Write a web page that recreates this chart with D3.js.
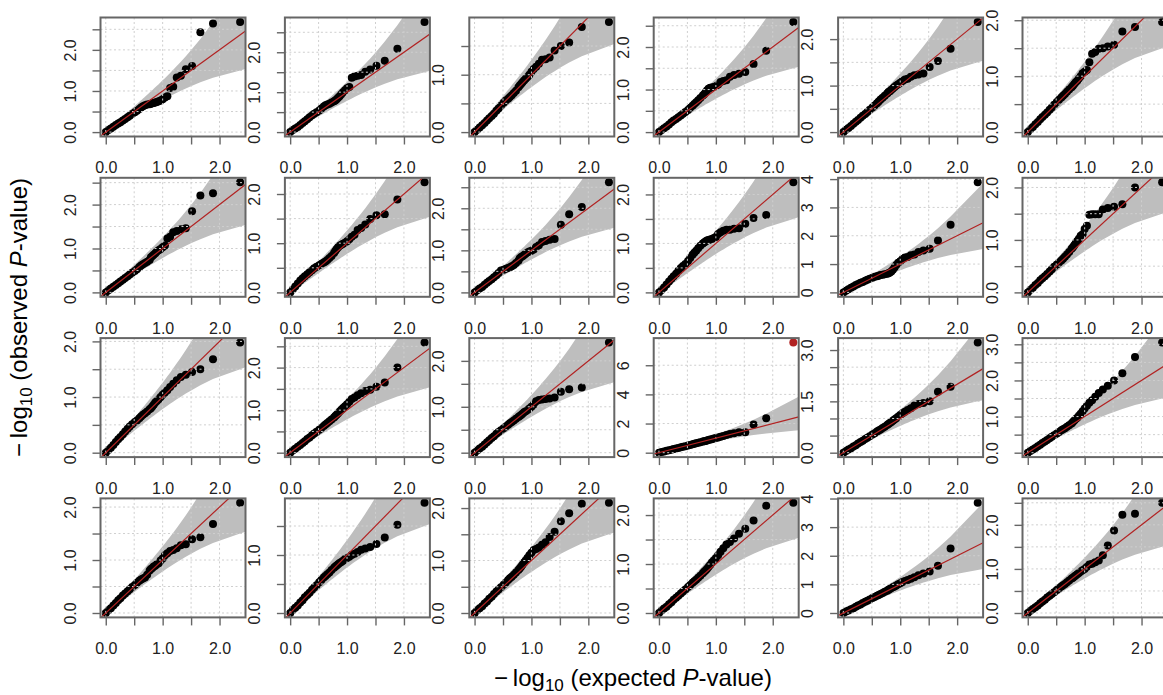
<!DOCTYPE html>
<html><head><meta charset="utf-8">
<script src="https://cdn.jsdelivr.net/npm/d3@7"></script>
<style>
body{margin:0;background:#fff}
svg{display:block}
text{font-family:"Liberation Sans",Arial,Helvetica,sans-serif}
</style>
</head><body>
<svg id="c" width="1163" height="695"></svg>
<script>
// ---------------- data ----------------
const nTests = 115;                       // number of tests per panel
// expected -log10 P for the plotted ranks (1..20, then sampled ranks)
const ranks = [1,2,3,4,5,6,7,8,9,10,11,12,13,14,15,16,17,18,19,20,22,24,26,28,30,33,36,40,44,48,53,58,64,70,77,85,94,104,115];
const expected = [2.362,1.885,1.663,1.517,1.407,1.320,1.248,1.186,1.131,1.083,1.040,1.000,0.964,0.930,0.899,0.870,0.843,0.818,0.794,0.771,0.728,0.690,0.654,0.621,0.591,0.549,0.511,0.464,0.422,0.384,0.341,0.301,0.258,0.219,0.177,0.134,0.090,0.046,0.002];

// observed -log10 P, one array per panel (row-wise order)
const p01 = [2.68,2.64,2.43,1.61,1.53,1.37,1.33,1.10,1.07,0.87,0.84,0.80,0.77,0.75,0.73,0.72,0.71,0.70,0.69,0.68,0.67,0.65,0.63,0.60,0.56,0.52,0.48,0.44,0.40,0.36,0.32,0.28,0.24,0.21,0.17,0.13,0.09,0.05,0.00];
const p02 = [2.76,2.09,1.79,1.66,1.57,1.51,1.43,1.41,1.39,1.36,1.13,1.10,1.05,1.00,0.95,0.90,0.86,0.82,0.79,0.77,0.74,0.71,0.69,0.67,0.64,0.59,0.54,0.50,0.46,0.42,0.37,0.32,0.27,0.23,0.18,0.13,0.09,0.05,0.00];
const p03 = [1.92,1.83,1.56,1.50,1.42,1.30,1.27,1.26,1.19,1.14,1.10,1.05,1.00,0.96,0.93,0.90,0.87,0.84,0.81,0.78,0.72,0.68,0.64,0.61,0.58,0.55,0.51,0.46,0.41,0.37,0.32,0.28,0.24,0.20,0.16,0.12,0.08,0.04,0.00];
const p04 = [2.59,1.91,1.60,1.41,1.37,1.34,1.30,1.22,1.20,1.18,1.12,1.08,1.06,1.05,1.04,1.02,0.98,0.93,0.89,0.86,0.80,0.75,0.70,0.66,0.62,0.57,0.52,0.47,0.43,0.39,0.35,0.31,0.27,0.23,0.18,0.13,0.09,0.05,0.00];
const p05 = [2.37,1.79,1.53,1.40,1.26,1.24,1.22,1.19,1.15,1.13,1.10,1.06,1.03,1.00,0.97,0.94,0.91,0.88,0.86,0.83,0.78,0.74,0.70,0.66,0.62,0.57,0.53,0.48,0.43,0.39,0.35,0.31,0.26,0.22,0.18,0.13,0.09,0.05,0.00];
const p06 = [1.97,1.88,1.80,1.56,1.53,1.50,1.49,1.43,1.40,1.25,1.11,1.08,1.05,1.00,0.96,0.92,0.89,0.86,0.83,0.80,0.76,0.72,0.68,0.65,0.62,0.58,0.54,0.49,0.44,0.40,0.35,0.31,0.27,0.23,0.18,0.14,0.09,0.05,0.00];
const p07 = [2.51,2.26,2.21,1.85,1.46,1.44,1.40,1.37,1.27,1.23,1.07,1.03,0.99,0.96,0.93,0.89,0.86,0.83,0.80,0.74,0.70,0.67,0.64,0.61,0.58,0.53,0.49,0.45,0.41,0.37,0.33,0.29,0.25,0.21,0.17,0.13,0.09,0.05,0.00];
const p08 = [2.24,1.89,1.59,1.57,1.49,1.38,1.31,1.27,1.17,1.13,1.08,1.04,1.01,0.99,0.97,0.95,0.92,0.88,0.84,0.80,0.74,0.70,0.66,0.63,0.61,0.58,0.55,0.52,0.49,0.45,0.41,0.37,0.33,0.29,0.24,0.18,0.12,0.06,0.00];
const p09 = [2.62,2.03,1.86,1.61,1.27,1.25,1.22,1.20,1.12,1.08,1.02,0.99,0.97,0.95,0.92,0.89,0.86,0.84,0.81,0.75,0.70,0.65,0.62,0.60,0.58,0.56,0.54,0.52,0.46,0.41,0.36,0.31,0.27,0.23,0.18,0.13,0.09,0.05,0.00];
const p10 = [2.25,1.58,1.52,1.40,1.31,1.30,1.28,1.28,1.26,1.23,1.19,1.13,1.11,1.09,1.08,1.07,1.06,1.04,1.02,1.00,0.95,0.90,0.85,0.81,0.77,0.70,0.64,0.58,0.54,0.50,0.44,0.38,0.33,0.28,0.22,0.16,0.10,0.05,0.00];
const p11 = [3.89,2.39,1.83,1.54,1.48,1.43,1.34,1.31,1.25,1.23,1.18,1.10,1.05,0.97,0.88,0.80,0.74,0.70,0.68,0.66,0.64,0.62,0.61,0.59,0.57,0.55,0.52,0.48,0.45,0.41,0.37,0.34,0.30,0.26,0.21,0.16,0.11,0.06,0.00];
const p12 = [2.10,2.00,1.68,1.63,1.61,1.58,1.49,1.49,1.49,1.48,1.27,1.21,1.11,1.08,1.02,0.98,0.94,0.90,0.86,0.83,0.77,0.72,0.68,0.64,0.61,0.57,0.53,0.49,0.44,0.40,0.35,0.31,0.27,0.23,0.18,0.14,0.09,0.05,0.00];
const p13 = [1.98,1.68,1.50,1.45,1.40,1.36,1.30,1.24,1.18,1.12,1.08,1.04,1.00,0.96,0.93,0.90,0.86,0.83,0.80,0.78,0.74,0.71,0.68,0.65,0.62,0.58,0.55,0.51,0.47,0.43,0.38,0.33,0.28,0.24,0.19,0.14,0.09,0.05,0.00];
const p14 = [2.59,2.00,1.65,1.55,1.48,1.45,1.40,1.35,1.30,1.26,1.20,1.14,1.09,1.05,1.01,0.97,0.93,0.89,0.86,0.83,0.78,0.74,0.70,0.66,0.63,0.58,0.54,0.49,0.45,0.41,0.36,0.32,0.27,0.23,0.18,0.14,0.09,0.05,0.00];
const p15 = [2.40,1.42,1.38,1.33,1.20,1.18,1.17,1.16,1.15,1.12,1.05,1.00,0.96,0.93,0.90,0.88,0.85,0.82,0.80,0.78,0.74,0.70,0.67,0.64,0.61,0.57,0.53,0.49,0.45,0.41,0.36,0.32,0.27,0.23,0.18,0.13,0.09,0.05,0.00];
const p16 = [7.56,2.36,1.94,1.40,1.40,1.33,1.28,1.22,1.15,1.10,1.05,1.01,0.97,0.93,0.90,0.87,0.84,0.81,0.78,0.76,0.72,0.68,0.64,0.61,0.58,0.53,0.50,0.45,0.41,0.37,0.33,0.29,0.25,0.21,0.17,0.13,0.09,0.04,0.00];
const p17 = [3.22,1.93,1.78,1.50,1.45,1.42,1.38,1.30,1.25,1.20,1.15,1.10,1.05,1.01,0.97,0.93,0.90,0.87,0.84,0.81,0.76,0.72,0.68,0.65,0.62,0.57,0.53,0.48,0.44,0.40,0.35,0.31,0.27,0.22,0.18,0.13,0.09,0.05,0.00];
const p18 = [3.05,2.65,2.20,2.00,1.85,1.75,1.65,1.55,1.45,1.38,1.30,1.22,1.15,1.08,1.02,0.97,0.93,0.89,0.85,0.81,0.76,0.72,0.68,0.65,0.62,0.57,0.53,0.48,0.44,0.40,0.35,0.31,0.27,0.22,0.18,0.13,0.09,0.05,0.00];
const p19 = [2.08,1.68,1.43,1.39,1.30,1.28,1.22,1.19,1.17,1.13,1.09,1.03,0.99,0.94,0.92,0.89,0.88,0.85,0.83,0.80,0.72,0.67,0.65,0.63,0.61,0.57,0.53,0.49,0.45,0.41,0.37,0.33,0.28,0.24,0.19,0.14,0.09,0.05,0.00];
const p20 = [1.90,1.52,1.30,1.19,1.14,1.11,1.09,1.05,1.02,1.00,0.97,0.95,0.93,0.90,0.88,0.86,0.84,0.82,0.80,0.78,0.74,0.70,0.67,0.64,0.61,0.57,0.53,0.48,0.44,0.40,0.35,0.31,0.27,0.22,0.18,0.13,0.09,0.05,0.00];
const p21 = [2.10,2.08,1.90,1.75,1.55,1.45,1.35,1.30,1.25,1.22,1.20,1.15,1.10,1.05,1.00,0.96,0.92,0.88,0.85,0.82,0.77,0.73,0.69,0.66,0.63,0.58,0.54,0.49,0.45,0.41,0.36,0.31,0.27,0.22,0.18,0.13,0.09,0.05,0.00];
const p22 = [2.25,2.19,1.89,1.72,1.62,1.52,1.45,1.40,1.32,1.25,1.18,1.12,1.07,1.03,0.98,0.94,0.90,0.87,0.84,0.81,0.76,0.72,0.68,0.65,0.62,0.57,0.53,0.48,0.44,0.40,0.35,0.31,0.27,0.22,0.18,0.13,0.09,0.05,0.00];
const p23 = [3.85,2.25,1.65,1.45,1.38,1.32,1.25,1.20,1.15,1.12,1.08,1.04,1.00,0.96,0.93,0.90,0.87,0.84,0.81,0.78,0.74,0.70,0.66,0.63,0.60,0.56,0.52,0.47,0.43,0.39,0.35,0.30,0.26,0.22,0.17,0.13,0.09,0.05,0.00];
const p24 = [2.50,2.25,2.23,1.87,1.53,1.31,1.19,1.15,1.12,1.10,1.05,1.00,0.97,0.94,0.91,0.88,0.85,0.83,0.80,0.78,0.74,0.70,0.66,0.63,0.60,0.56,0.52,0.47,0.43,0.39,0.35,0.30,0.26,0.22,0.17,0.13,0.09,0.05,0.00];
const panels = [p01,p02,p03,p04,p05,p06,p07,p08,p09,p10,p11,p12,p13,p14,p15,p16,p17,p18,p19,p20,p21,p22,p23,p24];
// highlighted (significant) point: panel 16, rank 1
const highlightPanel = 16, highlightRank = 1;

const xTitle = ["\u2212\u2009log", "10", " (expected ", "P", "-value)"];
const yTitle = ["\u2212\u2009log", "10", " (observed ", "P", "-value)"];

// ---------------- beta quantiles for the 95% band ----------------
function lgamma(x){
  const c=[0.99999999999980993,676.5203681218851,-1259.1392167224028,771.32342877765313,-176.61502916214059,12.507343278686905,-0.13857109526572012,9.9843695780195716e-6,1.5056327351493116e-7];
  if(x<0.5) return Math.log(Math.PI/Math.sin(Math.PI*x))-lgamma(1-x);
  x-=1; let a=c[0]; const t=x+7.5;
  for(let i=1;i<9;i++) a+=c[i]/(x+i);
  return 0.5*Math.log(2*Math.PI)+(x+0.5)*Math.log(t)-t+Math.log(a);
}
function betacf(a,b,x){
  const FP=1e-300; const qab=a+b,qap=a+1,qam=a-1;
  let c=1,d=1-qab*x/qap; if(Math.abs(d)<FP)d=FP; d=1/d; let h=d;
  for(let m=1;m<=300;m++){
    const m2=2*m; let aa=m*(b-m)*x/((qam+m2)*(a+m2));
    d=1+aa*d; if(Math.abs(d)<FP)d=FP; c=1+aa/c; if(Math.abs(c)<FP)c=FP; d=1/d; h*=d*c;
    aa=-(a+m)*(qab+m)*x/((a+m2)*(qap+m2));
    d=1+aa*d; if(Math.abs(d)<FP)d=FP; c=1+aa/c; if(Math.abs(c)<FP)c=FP; d=1/d;
    const del=d*c; h*=del; if(Math.abs(del-1)<1e-13) break;
  }
  return h;
}
function ibeta(x,a,b){
  if(x<=0) return 0; if(x>=1) return 1;
  const bt=Math.exp(lgamma(a+b)-lgamma(a)-lgamma(b)+a*Math.log(x)+b*Math.log(1-x));
  return x<(a+1)/(a+b+2) ? bt*betacf(a,b,x)/a : 1-bt*betacf(b,a,1-x)/b;
}
function qbeta(p,a,b){
  let lo=0,hi=1;
  for(let k=0;k<80;k++){const mid=(lo+hi)/2; if(ibeta(mid,a,b)<p) lo=mid; else hi=mid;}
  return (lo+hi)/2;
}
const band = d3.range(1, nTests+1).map(i => ({
  e: -Math.log10((i-0.5)/nTests),
  lo: -Math.log10(qbeta(0.975, i, nTests-i+1)),
  hi: -Math.log10(qbeta(0.025, i, nTests-i+1))
})).reverse();
{ // extend the band beyond the last rank so it reaches the frame
  const a=band[band.length-2], b=band[band.length-1], ex=b.e+0.4;
  band.push({e:ex, lo:b.lo+(b.lo-a.lo)/(b.e-a.e)*(ex-b.e), hi:b.hi+(b.hi-a.hi)/(b.e-a.e)*(ex-b.e)});
}

// ---------------- drawing ----------------
const svg = d3.select("#c");
const FS = 16;            // tick label size
const W = 145, H = 119;
const colX = c => 100.5 + c*184.4;
const rowY = r => 17.5 + r*160.3;
const GAP = 13.2;

function thinLabels(sel, getPos){
  let last = null, lastW = 0;
  sel.each(function(){
    const t = d3.select(this), w = this.getComputedTextLength(), p = getPos(this);
    if(last === null || Math.abs(p-last) >= (w+lastW)/2 + GAP){ last = p; lastW = w; }
    else t.remove();
  });
}
function fmtFor(ticks){
  const step = ticks.length>1 ? ticks[1]-ticks[0] : 1;
  const dec = Math.max(0, -Math.floor(Math.log10(step)+1e-9));
  return d3.format("." + dec + "f");
}

panels.forEach((obs, k) => {
  const row = Math.floor(k/6), col = k%6;
  const L = colX(col), T = rowY(row);
  const [xmn, xmx] = d3.extent(expected), xp = (xmx-xmn)*0.04;
  const [ymn, ymx] = d3.extent(obs), yp = (ymx-ymn)*0.04;
  const x = d3.scaleLinear().domain([xmn-xp, xmx+xp]).range([L, L+W]);
  const y = d3.scaleLinear().domain([ymn-yp, ymx+yp]).range([T+H, T]);
  const xt = d3.ticks(xmn-xp, xmx+xp, 5).filter(v => v>=xmn-xp && v<=xmx+xp);
  const yt = d3.ticks(ymn-yp, ymx+yp, 5).filter(v => v>=ymn-yp && v<=ymx+yp);

  const g = svg.append("g");
  const cid = "clip"+k;
  g.append("clipPath").attr("id", cid).append("rect").attr("x", L).attr("y", T).attr("width", W).attr("height", H);
  const inner = g.append("g").attr("clip-path", `url(#${cid})`);

  inner.append("path").datum(band)
    .attr("d", d3.area().x(d => x(d.e)).y0(d => y(d.lo)).y1(d => y(d.hi)))
    .attr("fill", "#bebebe");

  inner.selectAll("circle").data(obs).join("circle")
    .attr("cx", (d,i) => x(expected[i])).attr("cy", d => y(d)).attr("r", 4)
    .attr("fill", (d,i) => (k+1 === highlightPanel && ranks[i] === highlightRank) ? "#b22222" : "#000");

  // grid
  inner.selectAll("line.gx").data(xt).join("line").attr("class","gx")
    .attr("x1", d => x(d)).attr("x2", d => x(d)).attr("y1", T).attr("y2", T+H);
  inner.selectAll("line.gy").data(yt).join("line").attr("class","gy")
    .attr("y1", d => y(d)).attr("y2", d => y(d)).attr("x1", L).attr("x2", L+W);
  inner.selectAll("line.gx, line.gy").attr("stroke", "#cfcfcf").attr("stroke-width", 1).attr("stroke-dasharray", "2,2.5");

  // y = x reference line
  const dom = x.domain();
  inner.append("line")
    .attr("x1", x(dom[0])).attr("y1", y(dom[0])).attr("x2", x(dom[1])).attr("y2", y(dom[1]))
    .attr("stroke", "#b22222").attr("stroke-width", 1.2);

  // frame
  g.append("rect").attr("x", L).attr("y", T).attr("width", W).attr("height", H)
    .attr("fill", "none").attr("stroke", "#666").attr("stroke-width", 2);

  // x axis
  const ax = g.append("g").attr("transform", `translate(0,${T+H})`)
    .call(d3.axisBottom(x).tickValues(xt).tickFormat(fmtFor(xt)).tickSize(8).tickPadding(17.5));
  ax.select(".domain").remove();
  ax.selectAll(".tick line").attr("stroke", "#666").attr("stroke-width", 1.4);
  ax.selectAll("text").attr("font-size", FS).attr("fill", "#222").attr("font-family", null);
  thinLabels(ax.selectAll("text"), el => x(d3.select(el.parentNode).datum()));

  // y axis (labels parallel to the axis)
  const ay = g.append("g").attr("transform", `translate(${L},0)`)
    .call(d3.axisLeft(y).tickValues(yt).tickFormat(fmtFor(yt)).tickSize(8));
  ay.select(".domain").remove();
  ay.selectAll(".tick line").attr("stroke", "#666").attr("stroke-width", 1.4);
  ay.selectAll("text").attr("font-size", FS).attr("fill", "#222").attr("font-family", null)
    .attr("transform", "rotate(-90)").attr("x", 0).attr("y", -25).attr("dy", 0)
    .attr("text-anchor", "middle");
  thinLabels(ay.selectAll("text"), el => -y(d3.select(el.parentNode).datum()));
});

// axis titles
function title(parts, sel){
  sel.append("tspan").text(parts[0]);
  sel.append("tspan").text(parts[1]).attr("font-size", 17).attr("dy", 5);
  sel.append("tspan").text(parts[2]).attr("dy", -5);
  sel.append("tspan").text(parts[3]).attr("font-style", "italic");
  sel.append("tspan").text(parts[4]);
}
title(xTitle, svg.append("text").attr("x", 633).attr("y", 686).attr("text-anchor", "middle").attr("font-size", 24).attr("fill", "#000"));
title(yTitle, svg.append("text").attr("transform", "translate(27,317.5) rotate(-90)").attr("text-anchor", "middle").attr("font-size", 24).attr("fill", "#000"));
</script>
</body></html>
